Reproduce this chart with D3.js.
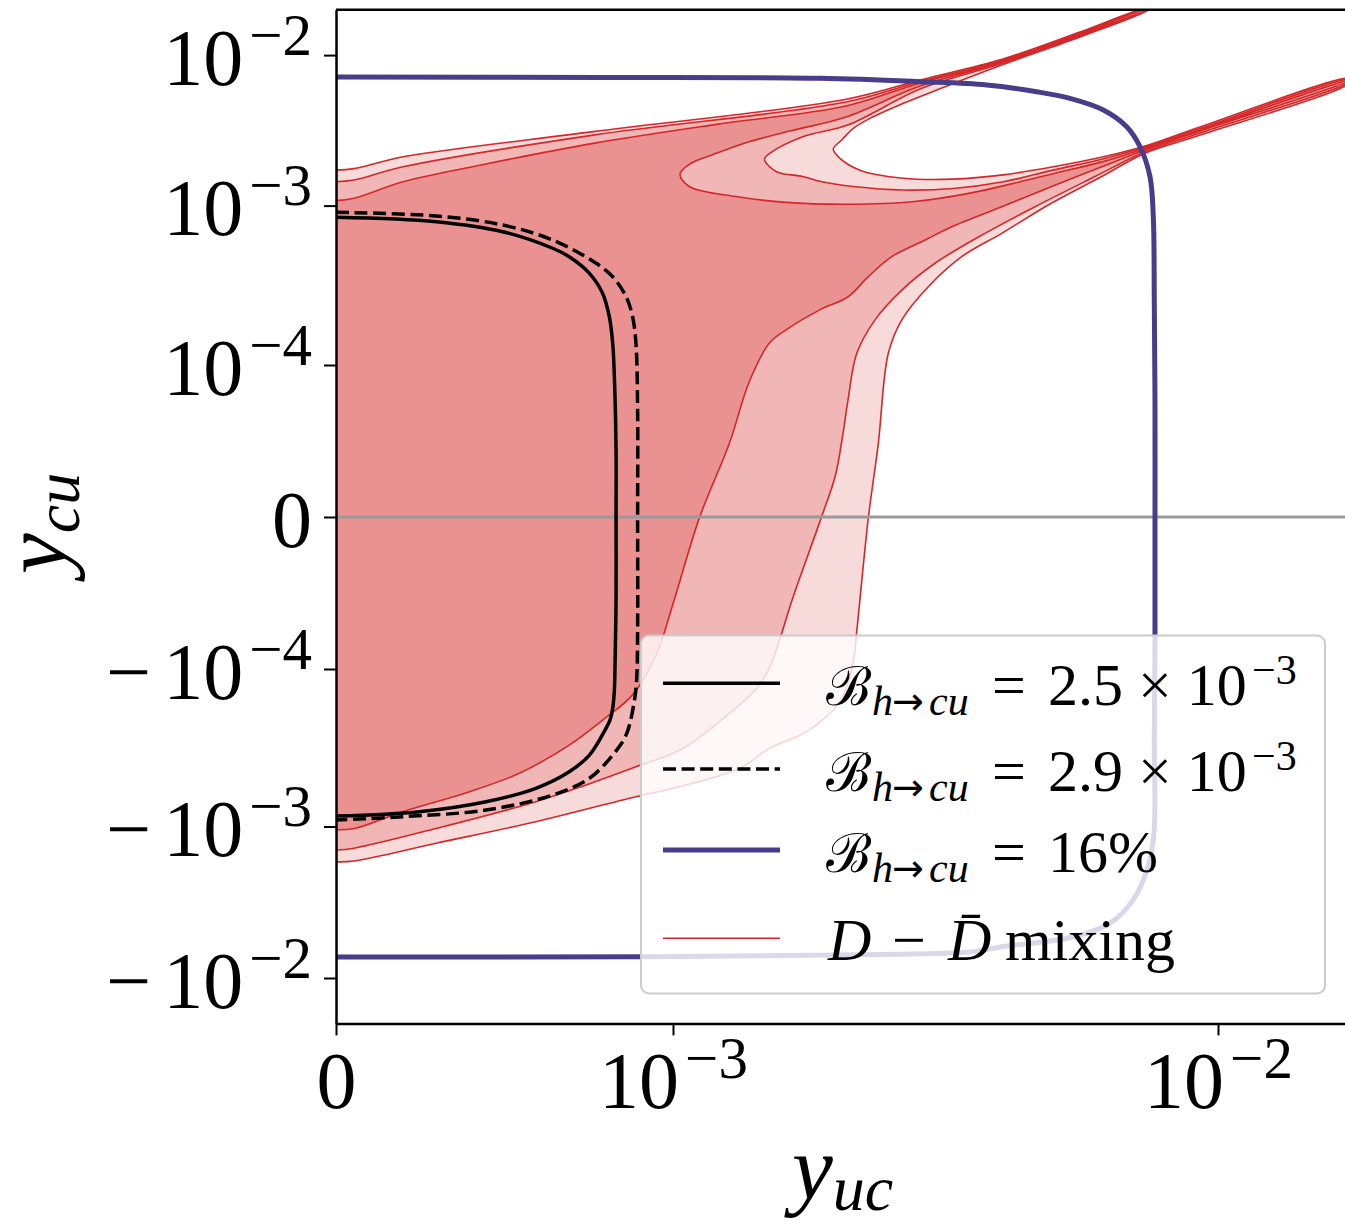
<!DOCTYPE html>
<html><head><meta charset="utf-8">
<script src="https://cdn.jsdelivr.net/npm/d3@7"></script>
<style>body{margin:0;background:#fff}svg{display:block}</style>
</head><body>
<svg id="chart" width="1345" height="1225"></svg>
<script>
// ---------------- data ----------------
const xTicks = [0, 1e-3, 1e-2];
const xTickBase = ["0", "10", "10"];
const xTickExp = ["", "−3", "−2"];
const yTicks = [-1e-2, -1e-3, -1e-4, 0, 1e-4, 1e-3, 1e-2];
const yTickSign = ["−", "−", "−", "", "", "", ""];
const yTickBase = ["10", "10", "10", "0", "10", "10", "10"];
const yTickExp = ["−2", "−3", "−4", "", "−4", "−3", "−2"];

// D - Dbar mixing: outer (lightest) region boundary [y_uc, y_cu]
const mixOuter = [
  [0,1.72e-3],[5.34e-5,1.76e-3],[1.99e-4,2.11e-3],[7.63e-4,3.10e-3],[2.077e-3,5.09e-3],
  [2.840e-3,6.83e-3],[4.032e-3,9.42e-3],[5.582e-3,1.424e-2],[7.223e-3,2.0e-2],[7.47e-3,2.0e-2],
  [5.582e-3,1.319e-2],[4.032e-3,8.66e-3],[3.047e-3,5.86e-3],[2.647e-3,4.78e-3],[2.299e-3,3.80e-3],
  [2.142e-3,3.26e-3],[2.040e-3,2.73e-3],[1.968e-3,2.37e-3],[2.025e-3,2.06e-3],[2.203e-3,1.72e-3],
  [2.647e-3,1.52e-3],[3.268e-3,1.50e-3],[4.037e-3,1.60e-3],[4.986e-3,1.81e-3],[6.16e-3,2.11e-3],
  [7.346e-3,2.49e-3],[9.268e-3,3.33e-3],[1.75e-2,7.01e-3],[1.75e-2,6.60e-3],[9.268e-3,2.94e-3],
  [7.346e-3,2.23e-3],[6.117e-3,1.56e-3],[4.953e-3,1.04e-3],[4.010e-3,6.70e-4],[3.386e-3,4.78e-4],
  [2.941e-3,3.10e-4],[2.629e-3,1.92e-4],[2.483e-3,1.18e-4],[2.381e-3,4.85e-5],[2.282e-3,-9e-7],
  [2.173e-3,-7.55e-5],[2.142e-3,-9.52e-5],[2.025e-3,-1.61e-4],[1.759e-3,-2.50e-4],[1.502e-3,-3.19e-4],
  [1.327e-3,-4.27e-4],[1.001e-3,-5.72e-4],[8.90e-4,-6.47e-4],[5.93e-4,-9.32e-4],[2.97e-4,-1.29e-3],
  [5.34e-5,-1.69e-3],[0,-1.71e-3]
];
// middle region boundary
const mixMid = [
  [0,1.44e-3],[5.34e-5,1.48e-3],[1.99e-4,1.81e-3],[7.63e-4,2.94e-3],[2.077e-3,4.88e-3],
  [2.840e-3,6.68e-3],[4.032e-3,9.28e-3],[5.582e-3,1.402e-2],[7.27e-3,2.0e-2],[7.42e-3,2.0e-2],
  [5.582e-3,1.339e-2],[4.032e-3,8.86e-3],[2.840e-3,5.95e-3],[2.093e-3,3.43e-3],[1.730e-3,2.87e-3],
  [1.507e-3,2.23e-3],[1.472e-3,2.03e-3],[1.549e-3,1.68e-3],[1.730e-3,1.56e-3],[1.877e-3,1.44e-3],
  [2.142e-3,1.34e-3],[2.647e-3,1.27e-3],[3.268e-3,1.30e-3],[4.037e-3,1.44e-3],[4.980e-3,1.72e-3],
  [6.152e-3,2.04e-3],[7.346e-3,2.45e-3],[9.268e-3,3.25e-3],[1.75e-2,6.93e-3],[1.75e-2,6.70e-3],
  [9.268e-3,3.04e-3],[7.346e-3,2.28e-3],[5.946e-3,1.56e-3],[4.615e-3,9.84e-4],[3.736e-3,6.70e-4],
  [3.025e-3,4.35e-4],[2.629e-3,2.95e-4],[2.348e-3,1.92e-4],[2.173e-3,1.18e-4],[2.095e-3,7.70e-5],
  [2.042e-3,5.07e-5],[1.983e-3,2.65e-5],[1.869e-3,-9e-7],[1.658e-3,-5.35e-5],[1.572e-3,-7.98e-5],
  [1.502e-3,-9.95e-5],[1.424e-3,-1.33e-4],[1.237e-3,-2.06e-4],[1.030e-3,-3.27e-4],[8.96e-4,-4.13e-4],
  [7.42e-4,-5.45e-4],[5.93e-4,-6.96e-4],[2.97e-4,-1.03e-3],[5.34e-5,-1.39e-3],[0,-1.43e-3]
];
// inner (darkest) region boundary
const mixInner = [
  [0,1.08e-3],[5.34e-5,1.12e-3],[1.99e-4,1.44e-3],[4.45e-4,1.89e-3],[7.63e-4,2.59e-3],
  [1.209e-3,3.48e-3],[2.077e-3,4.59e-3],[2.840e-3,6.53e-3],[4.032e-3,9.14e-3],[5.582e-3,1.381e-2],
  [7.314e-3,2.0e-2],[7.38e-3,2.0e-2],[5.582e-3,1.360e-2],[4.032e-3,9.00e-3],[2.840e-3,6.23e-3],
  [2.077e-3,3.88e-3],[1.639e-3,3.13e-3],[1.356e-3,2.61e-3],[1.179e-3,2.17e-3],[1.074e-3,1.89e-3],
  [1.030e-3,1.62e-3],[1.071e-3,1.34e-3],[1.305e-3,1.15e-3],[1.612e-3,1.05e-3],[2.093e-3,1.02e-3],
  [2.751e-3,1.06e-3],[3.508e-3,1.21e-3],[4.332e-3,1.44e-3],[4.980e-3,1.63e-3],[6.152e-3,1.96e-3],
  [7.346e-3,2.40e-3],[9.268e-3,3.18e-3],[1.75e-2,6.84e-3],[1.75e-2,6.78e-3],[9.268e-3,3.13e-3],
  [7.346e-3,2.34e-3],[6.117e-3,1.81e-3],[4.953e-3,1.34e-3],[4.010e-3,9.84e-4],[3.246e-3,7.37e-4],
  [2.901e-3,6.08e-4],[2.519e-3,4.78e-4],[2.282e-3,3.58e-4],[2.096e-3,2.68e-4],[1.855e-3,2.21e-4],
  [1.612e-3,1.66e-4],[1.502e-3,1.37e-4],[1.380e-3,8.90e-5],[1.269e-3,4.85e-5],[1.117e-3,-9e-7],
  [9.99e-4,-5.79e-5],[9.50e-4,-9.08e-5],[8.80e-4,-1.46e-4],[7.91e-4,-2.11e-4],[6.92e-4,-3.04e-4],
  [5.44e-4,-4.59e-4],[3.96e-4,-6.01e-4],[1.98e-4,-8.05e-4],[5.43e-5,-1.03e-3],[0,-1.05e-3]
];
// B(h->cu) = 16%
const br16 = [
  [0,7.15e-3],[7.83e-4,7.10e-3],[1.861e-3,7.01e-3],[2.840e-3,6.66e-3],[3.763e-3,6.33e-3],
  [4.648e-3,5.71e-3],[5.350e-3,5.16e-3],[6.16e-3,4.32e-3],[6.80e-3,3.34e-3],[7.193e-3,2.46e-3],
  [7.502e-3,1.56e-3],[7.608e-3,8.52e-4],[7.64e-3,2.56e-4],[7.663e-3,7.70e-5],[7.663e-3,0],
  [7.663e-3,-7.43e-5],[7.64e-3,-2.82e-4],[7.631e-3,-1.10e-3],[7.439e-3,-1.85e-3],[6.982e-3,-3.06e-3],
  [6.336e-3,-4.34e-3],[5.420e-3,-5.36e-3],[3.981e-3,-6.24e-3],[3.552e-3,-6.71e-3],[2.025e-3,-7.05e-3],
  [9.02e-4,-7.23e-3],[0,-7.27e-3]
];
// B(h->cu) = 2.5e-3
const br25 = [
  [0,8.45e-4],[2.97e-4,7.93e-4],[4.95e-4,6.86e-4],[6.43e-4,5.40e-4],[6.92e-4,4.78e-4],
  [7.52e-4,3.76e-4],[7.91e-4,2.82e-4],[8.11e-4,2.01e-4],[8.21e-4,1.37e-4],[8.26e-4,9.23e-5],
  [8.31e-4,4.41e-5],[8.31e-4,0],[8.31e-4,-5.46e-5],[8.28e-4,-9.74e-5],[8.26e-4,-1.36e-4],
  [8.21e-4,-1.78e-4],[8.13e-4,-2.11e-4],[8.01e-4,-2.38e-4],[7.52e-4,-3.52e-4],[6.92e-4,-4.49e-4],
  [5.93e-4,-5.72e-4],[4.45e-4,-6.96e-4],[2.47e-4,-8.05e-4],[0,-8.58e-4]
];
// B(h->cu) = 2.9e-3
const br29 = [
  [0,9.08e-4],[2.97e-4,8.61e-4],[4.95e-4,7.55e-4],[6.43e-4,6.08e-4],
  [7.72e-4,4.35e-4],[8.21e-4,3.58e-4],[8.61e-4,2.68e-4],[8.80e-4,2.01e-4],[8.90e-4,1.37e-4],
  [8.95e-4,7.04e-5],[8.95e-4,0],[8.95e-4,-7.43e-5],[8.92e-4,-1.17e-4],[8.85e-4,-1.61e-4],
  [8.61e-4,-2.62e-4],[8.21e-4,-3.52e-4],[7.52e-4,-4.94e-4],[6.43e-4,-6.31e-4],[4.45e-4,-7.86e-4],
  [1.98e-4,-8.67e-4],[0,-9.09e-4]
];

// ---------------- scales (symmetric-log style) ----------------
const X_LIN = 1e-3, Y_LIN = 1e-4;
const tx = v => v <= X_LIN ? v / X_LIN : 1 + Math.log10(v / X_LIN);
const ty = v => { const a = Math.abs(v); const t = a <= Y_LIN ? a / Y_LIN : 1 + Math.log10(a / Y_LIN); return v < 0 ? -t : t; };
const xT = d3.scaleLinear().domain([0, 1, 2, 2.2422]).range([336, 673, 1218, 1350]);
const yT = d3.scaleLinear().domain([-3.301, -3, -2, -1, 0, 1, 2, 3, 3.301])
  .range([1023.4, 978, 826.5, 669, 517, 365, 205.6, 55.1, 9.8]);
const X = v => xT(tx(v)), Y = v => yT(ty(v));

const svg = d3.select("#chart");
const FONT = "Liberation Serif, Times New Roman, serif";
svg.append("rect").attr("width", 1345).attr("height", 1225).attr("fill", "#fff");
svg.append("defs").append("clipPath").attr("id", "clip")
  .append("rect").attr("x", 336).attr("y", 9.8).attr("width", 1014).attr("height", 1013.6);

const plot = svg.append("g").attr("clip-path", "url(#clip)");
const region = d3.line().x(d => X(d[0])).y(d => Y(d[1])).curve(d3.curveCatmullRom.alpha(0.5));
const smooth = d3.line().x(d => X(d[0])).y(d => Y(d[1])).curve(d3.curveCatmullRom.alpha(0.5));

const regions = [
  {data: mixOuter, fill: "rgb(247,219,219)"},
  {data: mixMid, fill: "rgb(241,182,182)"},
  {data: mixInner, fill: "rgb(234,146,146)"}
];
plot.selectAll("path.fill").data(regions).join("path").attr("class", "fill")
  .attr("d", r => region(r.data) + "Z").attr("fill", r => r.fill).attr("stroke", "none");
plot.selectAll("path.edge").data(regions).join("path").attr("class", "edge")
  .attr("d", r => region(r.data) + "Z").attr("fill", "none")
  .attr("stroke", "#d62728").attr("stroke-width", 1.6).attr("stroke-linejoin", "round");

plot.append("line").attr("x1", X(0)).attr("x2", 1350).attr("y1", Y(0)).attr("y2", Y(0))
  .attr("stroke", "#9a9a9a").attr("stroke-width", 3);

plot.append("path").attr("d", smooth(br16)).attr("fill", "none")
  .attr("stroke", "#483d8b").attr("stroke-width", 5);
plot.append("path").attr("d", smooth(br25)).attr("fill", "none")
  .attr("stroke", "#000").attr("stroke-width", 3.5);
plot.append("path").attr("d", smooth(br29)).attr("fill", "none")
  .attr("stroke", "#000").attr("stroke-width", 3.5).attr("stroke-dasharray", "13,5.6");

// ---------------- axes ----------------
const yAxis = d3.axisLeft(yT).tickValues(yTicks.map(ty)).tickSize(12).tickSizeOuter(0).tickFormat(() => "");
const yg = svg.append("g").attr("transform", "translate(336,0)").call(yAxis);
const xAxis = d3.axisBottom(xT).tickValues(xTicks.map(tx)).tickSize(12).tickSizeOuter(0).tickFormat(() => "");
const xg = svg.append("g").attr("transform", "translate(0,1023.4)").call(xAxis);
[yg, xg].forEach(g => {
  g.select(".domain").attr("stroke", "#000").attr("stroke-width", 2.5);
  g.selectAll(".tick line").attr("stroke", "#000").attr("stroke-width", 2);
  g.attr("font-family", FONT).attr("font-size", 80);
});
svg.append("line").attr("x1", 336).attr("x2", 1350).attr("y1", 9.8).attr("y2", 9.8)
  .attr("stroke", "#000").attr("stroke-width", 2.5);

yg.selectAll(".tick").each(function (d, i) {
  const t = d3.select(this).select("text").text(null)
    .attr("x", -24).attr("y", 29).attr("dy", null).attr("text-anchor", "end")
    .attr("fill", "#000").attr("font-size", 80);
  if (yTickSign[i]) t.append("tspan").text(yTickSign[i]);
  t.append("tspan").attr("dx", yTickSign[i] ? 12 : 0).text(yTickBase[i]);
  if (yTickExp[i]) t.append("tspan").attr("dy", -30).attr("dx", 6).attr("font-size", 59).text(yTickExp[i]);
});
xg.selectAll(".tick").each(function (d, i) {
  const t = d3.select(this).select("text").text(null)
    .attr("y", 84.6).attr("dy", null).attr("text-anchor", "middle")
    .attr("fill", "#000").attr("font-size", 80);
  t.append("tspan").text(xTickBase[i]);
  if (xTickExp[i]) t.append("tspan").attr("dy", -30).attr("dx", 6).attr("font-size", 59).text(xTickExp[i]);
});

// axis labels
const xl = svg.append("text").attr("x", 792).attr("y", 1199).attr("font-family", FONT).attr("font-style", "italic");
xl.append("tspan").attr("font-size", 92).text("y");
xl.append("tspan").attr("font-size", 64).attr("dy", 11).text("uc");
const yl = svg.append("text").attr("transform", "translate(66,574) rotate(-90)").attr("font-family", FONT).attr("font-style", "italic");
yl.append("tspan").attr("font-size", 92).text("y");
yl.append("tspan").attr("font-size", 64).attr("dy", 13).text("cu");

// ---------------- legend ----------------
const leg = svg.append("g");
leg.append("rect").attr("x", 641).attr("y", 635.5).attr("width", 684).attr("height", 358).attr("rx", 8)
  .attr("fill", "#fff").attr("fill-opacity", 0.8).attr("stroke", "#cccccc").attr("stroke-width", 2);
const rows = [
  {y: 683.3, stroke: "#000", w: 3.5, dash: null, val: "2.5 × 10", exp: "−3"},
  {y: 769, stroke: "#000", w: 3.5, dash: "13,5.6", val: "2.9 × 10", exp: "−3"},
  {y: 850, stroke: "#483d8b", w: 5, dash: null, val: "16%", exp: ""},
  {y: 938.3, stroke: "#d62728", w: 1.6, dash: null, val: null, exp: ""}
];
rows.forEach(r => {
  leg.append("line").attr("x1", 663).attr("x2", 780).attr("y1", r.y).attr("y2", r.y)
    .attr("stroke", r.stroke).attr("stroke-width", r.w).attr("stroke-dasharray", r.dash);
  const b = r.y + 22;
  const t = leg.append("text").attr("font-family", FONT).attr("font-size", 60).attr("fill", "#000");
  if (r.val !== null) {
    t.append("tspan").attr("x", 826).attr("y", b).attr("font-family", "DejaVu Serif").attr("font-size", 54).text("ℬ");
    t.append("tspan").attr("x", 872).attr("y", b + 10).attr("font-size", 42).attr("font-style", "italic").text("h");
    t.append("tspan").attr("x", 892).attr("y", b + 9).attr("font-family", "DejaVu Sans").attr("font-size", 38).text("→");
    t.append("tspan").attr("x", 929).attr("y", b + 10).attr("font-size", 42).attr("font-style", "italic").text("cu");
    t.append("tspan").attr("x", 992).attr("y", b).text("=");
    t.append("tspan").attr("x", 1048).attr("y", b).text(r.val);
    if (r.exp) t.append("tspan").attr("x", 1252).attr("y", b - 21).attr("font-size", 42).text(r.exp);
  } else {
    t.append("tspan").attr("x", 828).attr("y", b).attr("font-style", "italic").text("D");
    t.append("tspan").attr("x", 892).attr("y", b).text("−");
    t.append("tspan").attr("x", 948).attr("y", b).attr("font-style", "italic").text("D\u0304");
    t.append("tspan").attr("x", 1005).attr("y", b).text("mixing");
  }
});
</script>
</body></html>
